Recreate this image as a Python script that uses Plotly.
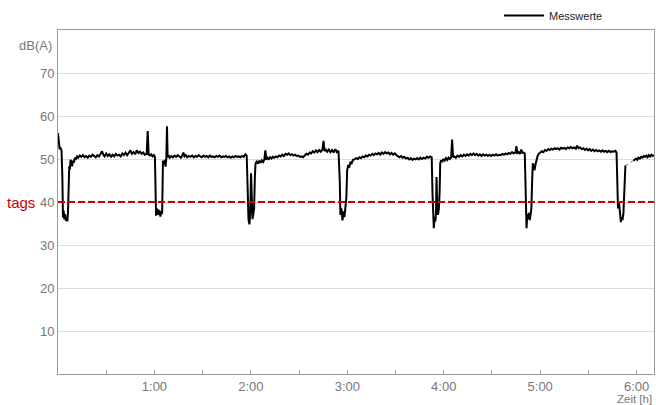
import plotly.graph_objects as go

# measured time (minutes) and level dB(A); None = gap in data
zeit_min = [
    0, 0.5, 1.0, 1.6, 2.2, 2.7, 3.1, 3.5, 3.9, 4.4, 4.9, 5.3, 5.8, 6.2, 6.6, 7.0, 7.4, 7.8, 8.3, 8.8, 9.3, 9.9, 10.5, 11.2, 11.9, 12.6,
    13.5, 14.5, 15.5, 16.5, 17.5, 18.5, 19.5, 20.5, 21.5, 22.5, 23.5, 24.5, 25.5, 26.5, 27.4, 28.2, 29.0, 30.0, 31.0, 32.0, 33.0, 34.0,
    35.0, 36.0, 37.0, 38.0, 39.0, 40.0, 41.0, 42.0, 43.0, 44.0, 45.0, 46.0, 47.0, 48.0, 49.0, 50.0, 51.0, 52.0, 53.0, 54.0, 55.2, 55.8,
    56.4, 57.2, 58.0, 58.8, 59.6, 60.3,
    60.7, 61.0, 61.5, 62.0, 62.6, 63.2, 63.7, 64.3, 64.8, 65.3, 65.9, 66.4, 66.9, 67.4, 67.8, 68.2, 68.8, 69.5,
    70.5, 71.5, 72.5, 73.5, 74.5, 75.5, 76.5, 77.3, 78.0, 78.7, 79.5, 80.5, 81.5, 82.5, 83.5, 84.5, 85.5, 86.5, 87.5, 88.5, 89.5, 90.5,
    91.5, 92.5, 93.5, 94.5, 95.5, 96.5, 97.5, 98.5, 99.5, 100.5, 101.5, 102.5, 103.5, 104.5, 105.5, 106.5, 107.5, 108.5, 109.5, 110.5,
    111.5, 112.5, 113.5, 114.5, 115.5, 116.6, 117.4,
    118.0, 118.5, 119.1, 119.6, 120.1, 120.5, 121.0, 121.5, 122.0, 122.5, 122.9, 123.6, 124.4, 125.2, 126.0, 126.8, 127.6, 128.4, 129.0,
    129.6, 130.4, 131.2, 132.0, 132.8, 133.6,
    134.5, 135.5, 136.5, 137.5, 138.5, 139.5, 140.5, 141.5, 142.5, 143.5, 144.5, 145.5, 146.5, 147.5, 148.5, 149.5, 150.5, 151.5, 152.5,
    153.5, 154.5, 155.5, 156.5, 157.5, 158.5, 159.5, 160.5, 161.5, 162.5, 163.5, 164.5, 165.2, 165.8, 166.5, 167.5, 168.5, 169.5, 170.5,
    171.5, 172.5, 173.5, 174.5,
    175.3, 175.7, 176.3, 177.0, 177.6, 178.2, 178.8, 179.4, 179.9, 180.6, 181.2, 181.9, 182.7, 183.5,
    184.5, 185.5, 186.5, 187.5, 188.5, 189.5, 190.5, 191.5, 192.5, 193.5, 194.5, 195.5, 196.5, 197.5, 198.5, 199.5, 200.5, 201.5, 202.5,
    203.5, 204.5, 205.5, 206.5, 207.5, 208.5, 209.5, 210.5, 211.5, 212.5, 213.5, 214.5, 215.5, 216.5, 217.5, 218.5, 219.5, 220.5, 221.5,
    222.5, 223.5, 224.5, 225.5, 226.5, 227.5, 228.5, 229.5, 230.5, 231.5, 232.5,
    233.0, 233.4, 233.8, 234.3, 234.8, 235.2, 235.5, 235.9, 236.4, 236.9, 237.4, 237.8, 238.3, 239.0, 239.8, 240.6, 241.4, 242.2, 243.0,
    243.8, 244.6, 245.2, 245.8,
    246.5, 247.5, 248.5, 249.5, 250.5, 251.5, 252.5, 253.5, 254.5, 255.5, 256.5, 257.5, 258.5, 259.5, 260.5, 261.5, 262.5, 263.5, 264.5,
    265.5, 266.5, 267.5, 268.5, 269.5, 270.5, 271.5, 272.5, 273.5, 274.5, 275.5, 276.5, 277.5, 278.5, 279.5, 280.5, 281.5, 282.5, 283.5,
    284.6, 285.2, 285.8, 286.6, 287.4, 288.2, 289.0, 289.8, 290.4,
    290.8, 291.2, 291.5, 292.0, 292.5, 293.0, 293.5, 294.0, 294.5, 295.0, 295.4, 296.0, 296.5, 297.0, 297.6, 298.3, 299.1, 300.0, 301.0,
    302.0, 303.0, 304.0, 305.0, 306.0, 307.0, 308.0, 309.0, 310.0, 311.0, 312.0, 313.0, 314.0, 315.0, 316.0, 317.0, 318.0, 319.0, 320.0,
    321.0, 322.2, 323.0, 323.8, 324.8, 325.8, 326.8, 327.8, 328.8, 329.8, 330.8, 331.8, 332.8, 333.8, 334.8, 335.8, 336.8, 337.8, 338.8,
    339.8, 340.8, 341.8, 342.8, 343.8, 344.8, 345.8, 346.8, 347.5,
    347.9, 348.4, 349.0, 349.6, 350.2, 350.7, 351.2, 351.8, 352.4, 353.0, 355.5,
    358.0, 358.8, 359.6, 360.4, 361.2, 362.0, 362.8, 363.6, 364.4, 365.2, 366.0, 366.8, 367.6, 368.4, 369.2, 370.0, 370.8,
]
pegel_db = [
    56.0, 54.5, 52.3, 52.5, 52.0, 46.0, 36.4, 38.0, 36.0, 37.2, 35.6, 36.4, 35.5, 37.5, 45.0, 48.3, 47.6, 49.8, 49.4, 48.3, 49.6, 49.2, 50.3, 49.9, 50.6, 50.3,
    50.8, 50.5, 50.9, 50.4, 50.7, 50.3, 50.8, 50.5, 51.0, 50.6, 50.4, 50.9, 50.6, 51.2, 51.8, 51.0, 50.6, 51.3, 50.7, 51.1, 50.5, 51.0,
    50.6, 51.2, 50.8, 51.0, 50.6, 51.3, 50.9, 51.5, 50.9, 51.4, 52.0, 51.2, 51.6, 51.1, 52.0, 51.4, 51.7, 51.2, 51.5, 51.0, 51.2, 56.5,
    51.0, 50.8, 51.1, 50.6, 50.9, 50.5,
    44.0, 36.8, 38.5, 37.0, 38.2, 37.5, 36.6, 38.0, 37.2, 49.6, 48.9, 49.8, 48.2, 50.2, 57.6, 50.4, 50.9, 50.3,
    50.7, 50.4, 50.8, 50.5, 50.9, 50.6, 50.3, 50.8, 51.5, 50.6, 50.9, 50.4, 50.7, 50.5, 50.8, 50.4, 50.7, 50.5, 50.9, 50.6, 50.4, 50.8,
    50.5, 50.7, 50.4, 50.8, 50.5, 50.6, 50.4, 50.7, 50.5, 50.8, 50.4, 50.6, 50.5, 50.7, 50.4, 50.6, 50.3, 50.6, 50.4, 50.7,
    50.5, 50.6, 50.4, 50.7, 50.5, 51.1, 50.8,
    43.0, 36.0, 34.8, 37.5, 46.7, 38.0, 36.0, 37.2, 38.5, 46.0, 49.0, 49.4, 48.9, 49.6, 49.1, 49.7, 49.3, 49.9, 52.0,
    49.8, 50.3, 50.0, 50.4, 50.1, 50.5,
    50.3, 50.6, 50.4, 50.8, 50.6, 51.0, 50.7, 51.2, 51.0, 51.3, 50.9, 51.1, 50.8, 51.0, 50.7, 50.8, 50.5, 50.6, 50.4,
    50.9, 51.2, 51.0, 51.5, 51.3, 51.8, 51.5, 52.0, 51.6, 52.1, 51.7, 52.2, 54.2, 51.8, 52.3, 51.7, 52.2, 51.6, 52.1,
    51.5, 52.3, 51.6, 51.9,
    45.0, 37.0, 38.5, 35.7, 37.8, 36.5, 38.2, 41.0, 47.4, 48.6, 48.0, 49.3, 49.0, 49.8,
    49.9, 50.2, 50.0, 50.4, 50.2, 50.6, 50.4, 50.8, 50.6, 51.0, 50.8, 51.2, 50.9, 51.3, 51.1, 51.4, 51.0, 51.5, 51.2,
    51.6, 51.3, 51.5, 51.1, 51.4, 51.0, 51.3, 50.9, 50.6, 50.4, 50.7, 50.3, 50.5, 50.1, 50.3, 49.9, 50.2, 49.8, 50.1,
    49.9, 50.2, 49.9, 50.3, 50.0, 50.3, 50.1, 50.5, 50.3, 50.6, 50.4,
    42.0, 35.5, 33.9, 36.5, 35.5, 38.0, 45.8, 38.5, 37.0, 38.2, 42.0, 49.0, 49.7, 49.3, 50.0, 49.6, 50.2, 49.8, 50.3,
    50.0, 50.4, 54.5, 50.4,
    50.6, 50.3, 50.8, 50.5, 50.9, 50.6, 51.0, 50.7, 51.1, 50.8, 51.2, 50.9, 51.3, 50.9, 51.2, 50.8, 51.1, 50.7, 51.1,
    50.8, 51.0, 50.7, 51.0, 50.7, 51.0, 50.8, 51.1, 50.8, 51.0, 50.9, 51.2, 51.0, 51.3, 51.1, 51.4, 51.2, 51.6, 51.3,
    51.5, 53.0, 51.4, 51.6, 51.2, 52.2, 51.4, 51.5, 51.3,
    44.0, 36.0, 33.9, 37.2, 36.0, 37.5, 35.8, 37.0, 38.5, 45.0, 49.0, 48.3, 47.4, 48.6, 49.6, 50.6, 51.2, 51.5, 51.8,
    51.6, 52.1, 51.9, 52.3, 52.1, 52.4, 52.2, 52.5, 52.3, 52.5, 52.2, 52.6, 52.4, 52.6, 52.3, 52.7, 52.5, 52.8, 52.5,
    52.7, 52.4, 53.1, 52.5, 52.7, 52.3, 52.5, 52.1, 52.4, 52.0, 52.3, 51.9, 52.2, 51.8, 52.1, 51.8, 52.0, 51.7, 52.0,
    51.7, 51.9, 51.6, 51.9, 51.6, 51.8, 51.7, 51.9, 51.5,
    44.0, 38.5, 40.0, 37.0, 35.3, 36.5, 35.8, 37.5, 42.0, 48.5, None,
    49.6, 49.9, 50.1, 49.8, 50.3, 50.1, 50.5, 50.3, 50.7, 50.5, 50.8, 50.4, 50.9, 50.6, 51.0, 50.7, 50.9,
]

# short interval without valid measurement (drawn dotted)
luecke_min = [353.0, 354.5, 356.0, 357.0, 358.0]
luecke_db = [48.5, 48.9, 49.2, 49.4, 49.6]

grenzwert_tags = 40
grenz_label = "tags"
stunden_ticks = [1, 2, 3, 4, 5, 6]
stunden_text = ["1:00", "2:00", "3:00", "4:00", "5:00", "6:00"]
y_ticks = [10, 20, 30, 40, 50, 60, 70]

x_h = [m / 60 for m in zeit_min]
luecke_h = [m / 60 for m in luecke_min]

fig = go.Figure()
fig.add_trace(go.Scatter(
    x=luecke_h, y=luecke_db, mode="lines", showlegend=False,
    line=dict(color="#9a9a9a", width=1.2, dash="dot"), hoverinfo="skip"))
fig.add_trace(go.Scatter(
    x=x_h, y=pegel_db, mode="lines", name="Messwerte",
    line=dict(color="#000000", width=2), connectgaps=False))

fig.add_shape(type="line", xref="paper", x0=0, x1=1, yref="y",
              y0=grenzwert_tags, y1=grenzwert_tags,
              line=dict(color="#cc0000", width=2, dash="7px,3px"))

gray = "#777777"
fig.update_layout(
    width=656, height=405,
    margin=dict(l=58, r=2, t=30, b=31, autoexpand=False),
    paper_bgcolor="white", plot_bgcolor="white",
    font=dict(family="Liberation Sans, Arial, sans-serif", size=12, color=gray),
    showlegend=True,
    legend=dict(orientation="h", x=0.74, xanchor="left", y=1.0, yanchor="bottom",
                font=dict(size=11, color="#222222"), bgcolor="rgba(0,0,0,0)",
                itemwidth=40),
    xaxis=dict(range=[0, 6.18], tickmode="array", tickvals=stunden_ticks,
               ticktext=stunden_text, ticks="inside", ticklen=4, tickcolor="#aaaaaa",
               showgrid=False, zeroline=False, showline=True, linecolor="#999999",
               linewidth=1, mirror=True, tickfont=dict(size=13, color=gray),
               automargin=False,
               minor=dict(dtick=0.5, tick0=0, ticks="inside", ticklen=4,
                          tickcolor="#aaaaaa", showgrid=False)),
    yaxis=dict(range=[0, 80], tickmode="array", tickvals=y_ticks, ticks="",
               showgrid=True, gridcolor="#dddddd", gridwidth=1, zeroline=False,
               showline=True, linecolor="#999999", linewidth=1, mirror=True,
               automargin=False, tickfont=dict(size=13, color=gray)),
    annotations=[
        dict(text="dB(A)", xref="paper", yref="paper", x=-0.006, y=0.955,
             xanchor="right", yanchor="middle", showarrow=False,
             font=dict(size=13, color=gray)),
        dict(text="Zeit [h]", xref="paper", yref="paper", x=1.0, y=-0.072,
             xanchor="right", yanchor="middle", showarrow=False,
             font=dict(size=11.5, color=gray)),
        dict(text=grenz_label, xref="paper", yref="y", x=-0.035, y=grenzwert_tags,
             xanchor="right", yanchor="middle", showarrow=False,
             font=dict(size=15, color="#cc0000")),
    ],
)

fig.write_html("out.html", config={"displayModeBar": False},
               post_script="document.body.style.margin='0';document.body.style.overflow='hidden';")
